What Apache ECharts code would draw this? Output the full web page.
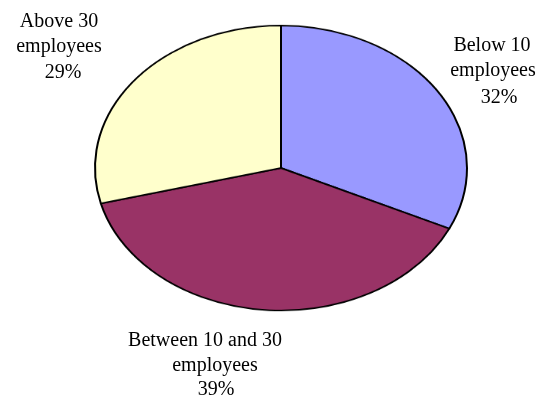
<!DOCTYPE html>
<html>
<head>
<meta charset="utf-8">
<script src="https://cdn.jsdelivr.net/npm/echarts@6/dist/echarts.min.js"></script>
<style>
  html, body { margin: 0; padding: 0; background: #fff; }
  #wrap { position: relative; width: 539px; height: 400px; overflow: hidden; }
  /* excel draws the pie stretched into an ellipse */
  #pie { position: absolute; left: 91px; top: -22.5px; width: 380px; height: 380px;
         transform: scaleY(0.766); transform-origin: 50% 50%; }
  #labels { position: absolute; left: 0; top: 0; width: 539px; height: 400px; pointer-events: none; }
</style>
</head>
<body>
<div id="wrap">
  <div id="pie"></div>
  <div id="labels"></div>
</div>
<script>
const categories = ["Below 10 employees", "Between 10 and 30 employees", "Above 30 employees"];
const values = [32, 39, 29];
const labelLines = [["Below 10", "employees"], ["Between 10 and 30", "employees"], ["Above 30", "employees"]];
const colors = ["#9999FF", "#993366", "#FFFFCC"];

const total = values.reduce((a, b) => a + b, 0);

var pieChart = echarts.init(document.getElementById("pie"));
pieChart.setOption({
  animation: false,
  series: [
    {
      type: "pie",
      center: [190, 190],
      radius: 186,
      startAngle: 90,
      clockwise: true,
      label: { show: false },
      labelLine: { show: false },
      itemStyle: { borderColor: "#000", borderWidth: 2 },
      data: categories.map((c, i) => ({
        name: c,
        value: values[i],
        itemStyle: { color: colors[i] }
      }))
    }
  ]
});

// where excel put each label line: [center x, baseline y]
const lineAnchors = [
  [[492, 52], [493, 77], [499, 104]],
  [[205, 347], [215, 372], [216, 396]],
  [[59, 28], [59, 53], [63, 79]]
];

var graphics = [];
categories.forEach((c, i) => {
  var lines = labelLines[i].concat(Math.round(values[i] / total * 100) + "%");
  lines.forEach((t, j) => {
    graphics.push({
      type: "text",
      x: lineAnchors[i][j][0],
      y: lineAnchors[i][j][1] - 19,
      style: {
        text: t,
        font: "20px 'Liberation Serif'",
        lineHeight: 25,
        align: "center",
        verticalAlign: "top",
        fill: "#000"
      }
    });
  });
});

var labelChart = echarts.init(document.getElementById("labels"));
labelChart.setOption({ animation: false, graphic: graphics });
</script>
</body>
</html>
